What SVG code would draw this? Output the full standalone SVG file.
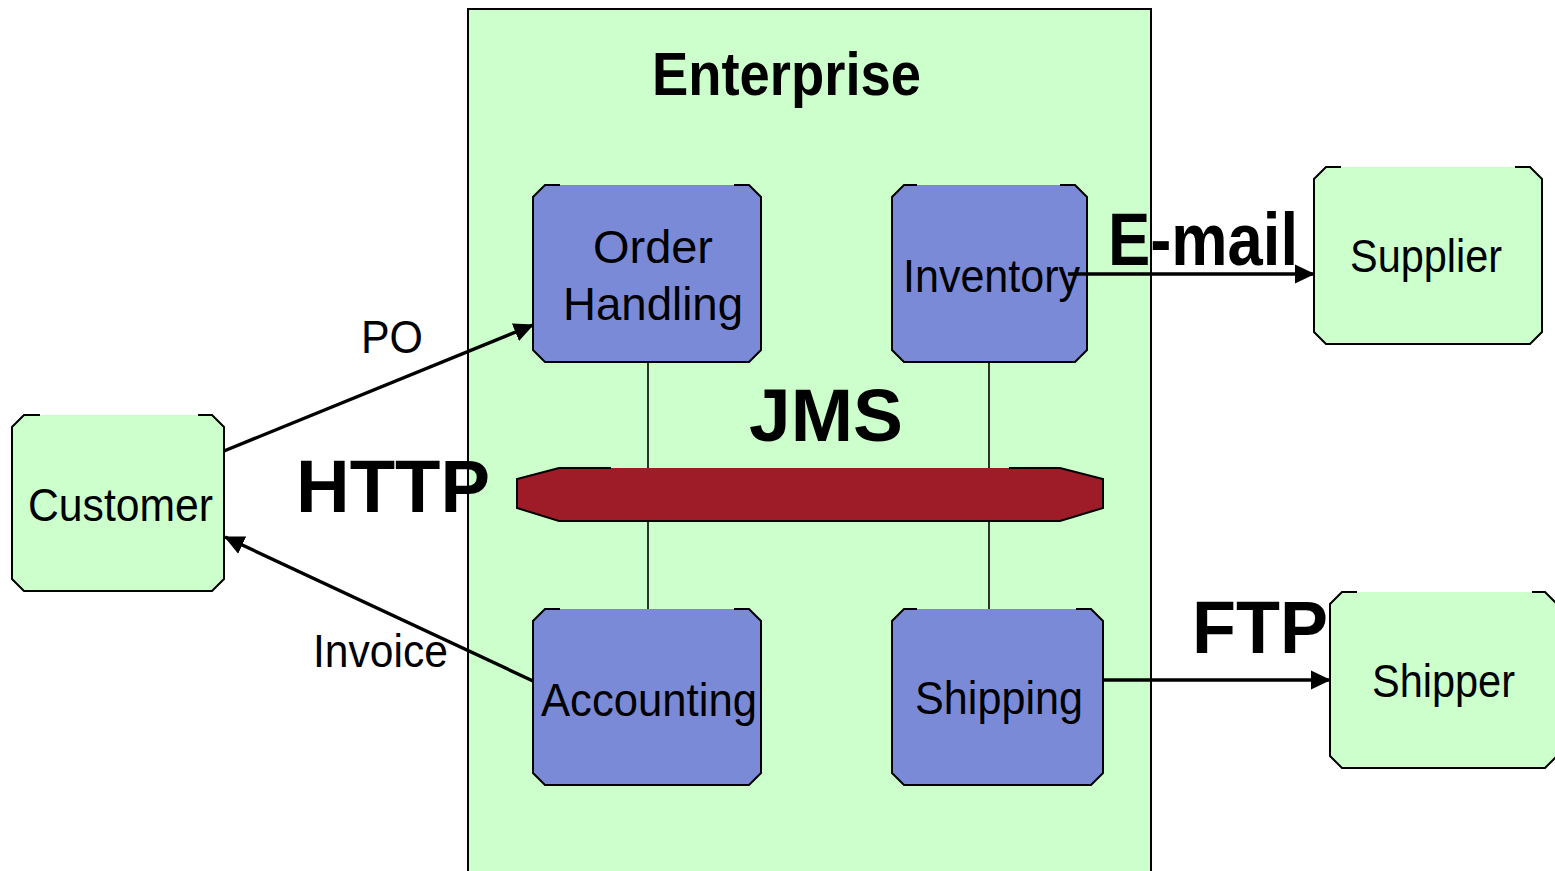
<svg xmlns="http://www.w3.org/2000/svg" width="1555" height="871" viewBox="0 0 1555 871">
  <style>
    .bg { fill: #ffffff; }
    .ent { fill: #ccffcc; stroke: #000; stroke-width: 2; }
    .ext { fill: #ccffcc; stroke: none; }
    .svc { fill: #7b8ad7; stroke: none; }
    .bus { fill: #9e1c27; stroke: none; }
    .edge { fill: none; stroke: #000; stroke-width: 2; stroke-linejoin: miter; }
    .link { fill: none; stroke: #000; stroke-width: 1.6; }
    .arrow { fill: none; stroke: #000; stroke-width: 3.4; marker-end: url(#head); }
    .lbl { font-family: "Liberation Sans", Arial, sans-serif; font-size: 47px; fill: #000; }
    .big { font-family: "Liberation Sans", Arial, sans-serif; font-size: 74px; font-weight: bold; fill: #000; }
  </style>
  <defs>
    <marker id="head" markerUnits="userSpaceOnUse" markerWidth="20" markerHeight="20" viewBox="0 0 20 20" refX="19" refY="10" orient="auto">
      <path d="M0,0.5 L20,10 L0,19.5 Z" fill="#000"/>
    </marker>
  </defs>

  <rect class="bg" x="0" y="0" width="1555" height="871"/>

  <!-- Enterprise boundary -->
  <g id="enterprise">
    <rect class="ent" x="468" y="9" width="683" height="900"/>
    <text class="big" x="652" y="95" style="font-size:62px" textLength="269" lengthAdjust="spacingAndGlyphs">Enterprise</text>
  </g>

  <!-- Bus taps -->
  <g id="bus-taps">
    <line class="link" x1="648" y1="362" x2="648" y2="468"/>
    <line class="link" x1="648" y1="521" x2="648" y2="609"/>
    <line class="link" x1="989" y1="362" x2="989" y2="468"/>
    <line class="link" x1="989" y1="521" x2="989" y2="609"/>
  </g>

  <!-- JMS message bus -->
  <g id="jms">
    <polygon class="bus" points="517,479 559,468 1060,468 1103,479 1103,508 1060,521 559,521 517,508"/>
    <path class="edge" d="M611,468 L559,468 L517,479 L517,508 L559,521 L1060,521 L1103,508 L1103,479 L1060,468 L1009,468"/>
    <text class="big" x="749" y="441" textLength="154" lengthAdjust="spacingAndGlyphs">JMS</text>
  </g>

  <!-- Order Handling -->
  <g id="order-handling">
    <polygon class="svc" points="545,185 749,185 761,197 761,350 749,362 545,362 533,350 533,197"/>
    <path class="edge" d="M560,185 L545,185 L533,197 L533,350 L545,362 L749,362 L761,350 L761,197 L749,185 L734,185"/>
    <text class="lbl" x="593" y="263" textLength="120" lengthAdjust="spacingAndGlyphs">Order</text>
    <text class="lbl" x="563" y="320" textLength="180" lengthAdjust="spacingAndGlyphs">Handling</text>
  </g>

  <!-- Inventory -->
  <g id="inventory">
    <polygon class="svc" points="904,185 1075,185 1087,197 1087,350 1075,362 904,362 892,350 892,197"/>
    <path class="edge" d="M917,185 L904,185 L892,197 L892,350 L904,362 L1075,362 L1087,350 L1087,197 L1075,185 L1060,185"/>
    <text class="lbl" x="903" y="292" textLength="177" lengthAdjust="spacingAndGlyphs">Inventory</text>
  </g>

  <!-- Accounting -->
  <g id="accounting">
    <polygon class="svc" points="545,609 749,609 761,621 761,773 749,785 545,785 533,773 533,621"/>
    <path class="edge" d="M560,609 L545,609 L533,621 L533,773 L545,785 L749,785 L761,773 L761,621 L749,609 L734,609"/>
    <text class="lbl" x="541" y="716" textLength="216" lengthAdjust="spacingAndGlyphs">Accounting</text>
  </g>

  <!-- Shipping -->
  <g id="shipping">
    <polygon class="svc" points="904,609 1091,609 1103,621 1103,773 1091,785 904,785 892,773 892,621"/>
    <path class="edge" d="M917,609 L904,609 L892,621 L892,773 L904,785 L1091,785 L1103,773 L1103,621 L1091,609 L1076,609"/>
    <text class="lbl" x="915" y="714" textLength="168" lengthAdjust="spacingAndGlyphs">Shipping</text>
  </g>

  <!-- Customer -->
  <g id="customer">
    <polygon class="ext" points="24,415 212,415 224,427 224,579 212,591 24,591 12,579 12,427"/>
    <path class="edge" d="M40,415 L24,415 L12,427 L12,579 L24,591 L212,591 L224,579 L224,427 L212,415 L198,415"/>
    <text class="lbl" x="28" y="521" textLength="185" lengthAdjust="spacingAndGlyphs">Customer</text>
  </g>

  <!-- Supplier -->
  <g id="supplier">
    <polygon class="ext" points="1326,167 1530,167 1542,179 1542,332 1530,344 1326,344 1314,332 1314,179"/>
    <path class="edge" d="M1341,167 L1326,167 L1314,179 L1314,332 L1326,344 L1530,344 L1542,332 L1542,179 L1530,167 L1515,167"/>
    <text class="lbl" x="1350" y="272" textLength="152" lengthAdjust="spacingAndGlyphs">Supplier</text>
  </g>

  <!-- Shipper -->
  <g id="shipper">
    <polygon class="ext" points="1342,592 1545,592 1557,604 1557,756 1545,768 1342,768 1330,756 1330,604"/>
    <path class="edge" d="M1357,592 L1342,592 L1330,604 L1330,756 L1342,768 L1545,768 L1557,756 L1557,604 L1545,592 L1532,592"/>
    <text class="lbl" x="1372" y="697" textLength="143" lengthAdjust="spacingAndGlyphs">Shipper</text>
  </g>

  <!-- Protocol connectors -->
  <g id="connectors">
    <line class="arrow" x1="224" y1="451" x2="533" y2="325"/>
    <line class="arrow" x1="533" y1="681" x2="225" y2="537"/>
    <line class="arrow" x1="1068" y1="274" x2="1314" y2="274"/>
    <line class="arrow" x1="1102" y1="680" x2="1330" y2="680"/>
  </g>

  <!-- Link labels -->
  <g id="labels">
    <text class="lbl" x="361" y="353" textLength="62" lengthAdjust="spacingAndGlyphs">PO</text>
    <text class="lbl" x="313" y="667" textLength="135" lengthAdjust="spacingAndGlyphs">Invoice</text>
    <text class="big" x="296" y="512" textLength="194" lengthAdjust="spacingAndGlyphs">HTTP</text>
    <text class="big" x="1108" y="265" textLength="190" lengthAdjust="spacingAndGlyphs">E-mail</text>
    <text class="big" x="1192" y="653" textLength="136" lengthAdjust="spacingAndGlyphs">FTP</text>
  </g>
</svg>
